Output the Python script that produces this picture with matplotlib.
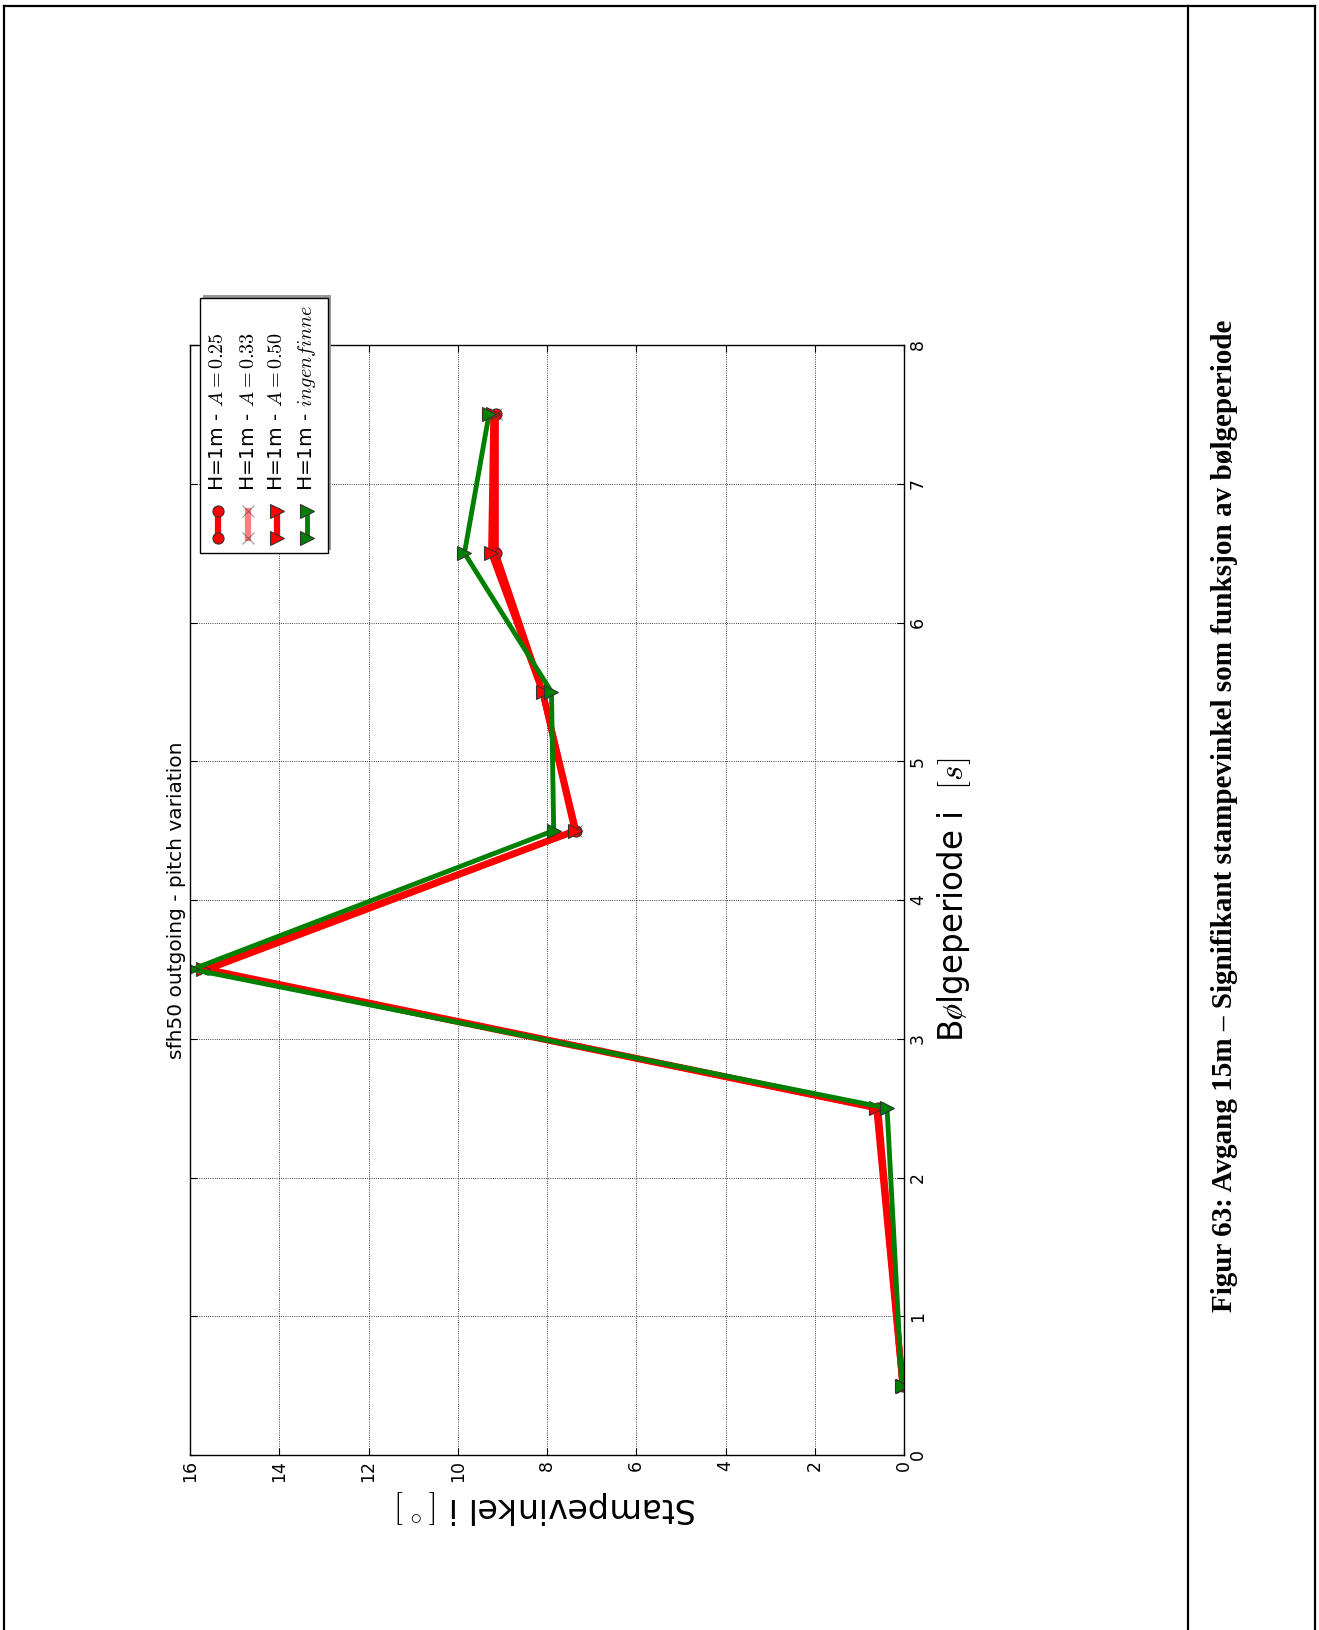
import matplotlib
matplotlib.use('Agg')
import matplotlib.pyplot as plt
from matplotlib.lines import Line2D
from matplotlib.patches import Rectangle

plt.rcParams['mathtext.fontset'] = 'cm'
plt.rcParams['font.family'] = ['DejaVu Sans']

# data (period in s, pitch angle in degrees)
periods = [0.5, 2.5, 3.5, 4.5, 5.5, 6.5, 7.5]
pitch_a025 = [0.03, 0.58, 15.6, 7.35, 8.1, 9.15, 9.15]
pitch_a033 = [0.03, 0.60, 15.65, 7.35, 8.1, 9.2, 9.15]
pitch_a050 = [0.03, 0.62, 15.7, 7.38, 8.1, 9.25, 9.2]
pitch_ingen = [0.05, 0.38, 15.95, 7.85, 7.9, 9.85, 9.3]
labels = ['H=1m - $A=0.25$', 'H=1m - $A=0.33$', 'H=1m - $A=0.50$', 'H=1m - $ingen finne$']
angle_ticks = [0, 2, 4, 6, 8, 10, 12, 14, 16]
period_ticks = [0, 1, 2, 3, 4, 5, 6, 7, 8]

W, H = 1319, 1630
fig = plt.figure(figsize=(W / 100, H / 100), dpi=100)


def fx(x):
    return x / W


def fy(y):
    return 1 - y / H


# page frame (table cell)
for xs, ys in [([4, 1315], [6, 6]), ([4, 4], [6, H]), ([1315, 1315], [6, H]), ([1188, 1188], [6, H])]:
    fig.add_artist(Line2D([fx(v) for v in xs], [fy(v) for v in ys], color='black', lw=1.6))

# rotated plot: horizontal = pitch (reversed), vertical = period
ax = fig.add_axes([fx(190), fy(1455), fx(904) - fx(190), fy(345) - fy(1455)])
styles = [
    (pitch_a025, dict(color='red', marker='o', lw=4.5, ms=8)),
    (pitch_a033, dict(color='red', marker='x', lw=4.5, ms=8, alpha=0.5)),
    (pitch_a050, dict(color='red', marker='>', lw=4.5, ms=10)),
    (pitch_ingen, dict(color='green', marker='>', lw=3.5, ms=10)),
]
for vals, kw in styles:
    ax.plot(vals, periods, mec='#333333', mew=0.8, **kw)

ax.set_xlim(16, 0)
ax.set_ylim(0, 8)
ax.set_xticks(angle_ticks)
ax.set_yticks(period_ticks)
ax.grid(True, color='black', linestyle=':', lw=0.6)
ax.tick_params(direction='in', length=5, top=True, bottom=True, left=True, right=True,
               labelleft=False, labelright=True, labelsize=12.5)
for t in ax.get_xticklabels() + ax.get_yticklabels():
    t.set_rotation(90)
for t in ax.get_xticklabels():
    t.set_va('top')
for t in ax.get_yticklabels():
    t.set_ha('left')
    t.set_va('center')
for s in ax.spines.values():
    s.set_linewidth(1.0)

ax.set_xlabel(r'Stampevinkel i $[\,^{\circ}\,]$', fontsize=24, rotation=180, labelpad=4)
ax.yaxis.set_label_position('right')
ax.set_ylabel(r'B$\o$lgeperiode i  $[s]$', fontsize=23.5, rotation=90, labelpad=6)
ax.text(-0.006, 0.5, 'sfh50 outgoing - pitch variation', transform=ax.transAxes,
        rotation=90, ha='right', va='center', fontsize=14.5)

# legend, drawn rotated by hand
fig.add_artist(Rectangle((fx(203), fy(550)), fx(328) - fx(200), fy(295) - fy(550),
                         facecolor='#999999', edgecolor='none', zorder=5))
fig.add_artist(Rectangle((fx(200), fy(553)), fx(328) - fx(200), fy(298) - fy(553),
                         facecolor='white', edgecolor='black', lw=1.0, zorder=6))
entry_x = [218, 248, 277, 307]
for xe, (vals, kw), lab in zip(entry_x, styles, labels):
    fig.add_artist(Line2D([fx(xe), fx(xe)], [fy(538), fy(511)], mec='#333333', mew=0.8,
                          zorder=7, **kw))
    fig.text(fx(xe), fy(491), lab, rotation=90, ha='center', va='bottom',
             fontsize=14.5, zorder=8)

# caption
fig.text(fx(1224), fy(816), 'Figur 63: Avgang 15m \u2013 Signifikant stampevinkel som funksjon av b\u00f8lgeperiode',
         rotation=90, ha='center', va='center', fontsize=21, fontweight='bold',
         family=['Liberation Serif', 'DejaVu Serif'])

fig.savefig('out.png', dpi=100)
